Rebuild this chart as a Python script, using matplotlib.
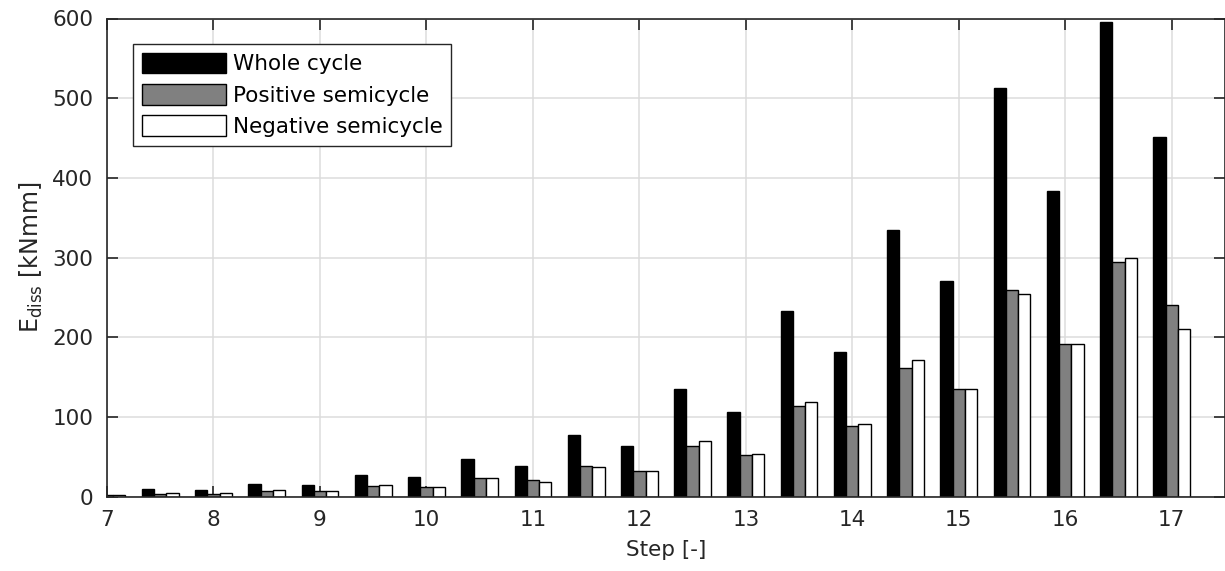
import matplotlib
matplotlib.use("Agg")
import matplotlib.pyplot as plt
import numpy as np

# step values (half steps between integer ticks)
steps = [7, 7.5, 8, 8.5, 9, 9.5, 10, 10.5, 11, 11.5, 12,
         12.5, 13, 13.5, 14, 14.5, 15, 15.5, 16, 16.5, 17]
whole = [4, 9, 8, 15.5, 14, 27.5, 24, 47, 39, 77, 64,
         135, 106, 233, 181, 334, 270, 513, 384, 595, 451]
positive = [2, 3.5, 3, 6.5, 7, 13, 12.5, 23, 20.5, 38.5, 32.5,
            64, 52, 114, 89, 162, 135, 259, 191.5, 295, 241]
negative = [2, 4.5, 4, 8.5, 6.5, 14, 11.5, 23, 18.5, 37.5, 32,
            69.5, 53.5, 118.5, 91, 171, 135, 254, 191.5, 300, 210]
labels = ["Whole cycle", "Positive semicycle", "Negative semicycle"]
xticks = [7, 8, 9, 10, 11, 12, 13, 14, 15, 16, 17]
yticks = [0, 100, 200, 300, 400, 500, 600]

plt.rcParams['font.family'] = ['DejaVu Sans']
plt.rcParams['font.size'] = 15
plt.rcParams['mathtext.fontset'] = 'dejavusans'

fig = plt.figure(figsize=(12.25, 5.71), dpi=100)
ax = fig.add_axes([107/1225, 1 - 496.6/571, 1118/1225, (496.6 - 18.5)/571])

x = np.array(steps)
w = 0.115
ax.bar(x - w, whole, w, color='black', edgecolor='black', linewidth=1.0, label=labels[0], zorder=3)
ax.bar(x, positive, w, color='#808080', edgecolor='black', linewidth=1.0, label=labels[1], zorder=3)
ax.bar(x + w, negative, w, color='white', edgecolor='black', linewidth=1.0, label=labels[2], zorder=3)

ax.set_xlim(7, 17.5)
ax.set_ylim(0, 600)
ax.set_xticks(xticks)
ax.set_yticks(yticks)
ax.grid(True, color='#dcdcdc', linewidth=1.1)
ax.set_axisbelow(True)

for s in ax.spines.values():
    s.set_linewidth(1.2)
    s.set_color('#262626')
    s.set_zorder(4)
ax.tick_params(direction='in', length=8, width=1.2, color='#262626',
               top=True, right=True, labelcolor='#262626', labelsize=15.5)
ax.tick_params(axis='y', pad=10)
ax.tick_params(axis='x', pad=10)

ax.set_xlabel("Step [-]", fontsize=15.5, color='#262626', labelpad=7)
ax.set_ylabel(r"E$_{\mathregular{diss}}$ [kNmm]", fontsize=17, color='#262626', labelpad=5)

leg = ax.legend(loc='upper left', bbox_to_anchor=(26/1118, 1 - 25.5/478), borderaxespad=0,
                fancybox=False, framealpha=1, edgecolor='#262626',
                handlelength=3.9, handleheight=1.1, labelspacing=0.45,
                handletextpad=0.35, borderpad=0.4, fontsize=15.5)
leg.get_frame().set_linewidth(1.0)

fig.savefig("out.png", dpi=100)
